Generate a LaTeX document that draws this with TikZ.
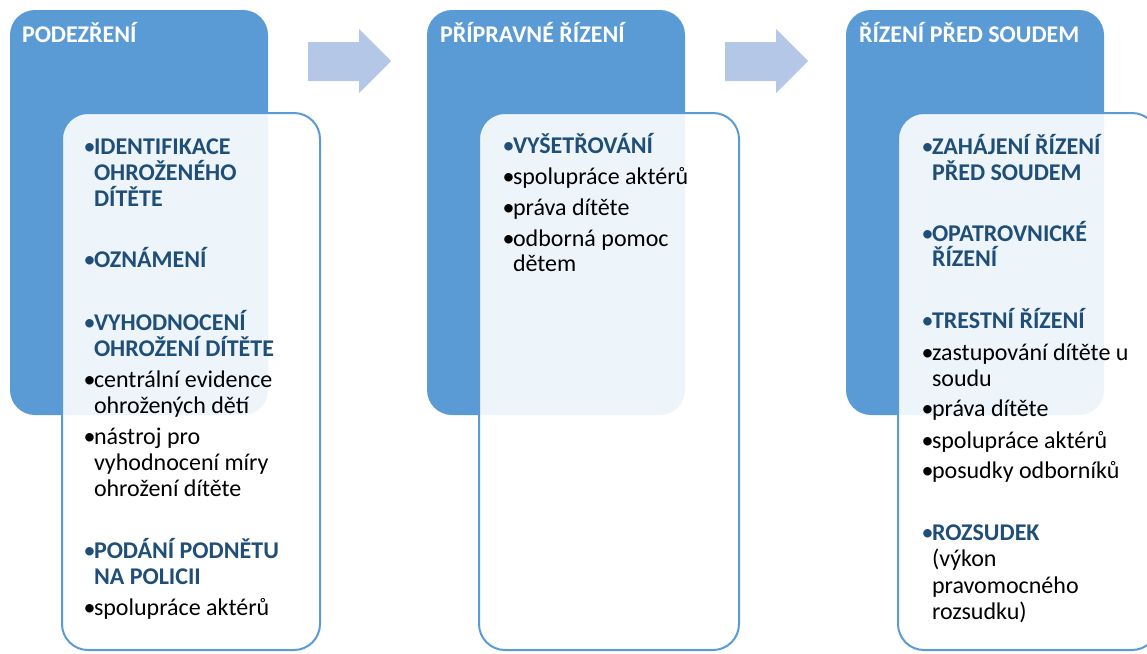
\documentclass[tikz,border=0pt]{standalone}
\usepackage{fontspec}
\setmainfont{Carlito}
\definecolor{hdrblue}{HTML}{5B9BD5}
\definecolor{arrblue}{HTML}{B4C7E7}
\definecolor{dkblue}{HTML}{1F4E79}
\tikzset{
  hdrbox/.style={fill=hdrblue, draw=none, rounded corners=25pt},
  listbox/.style={draw=hdrblue, line width=2pt, fill=white, fill opacity=0.9, rounded corners=26pt},
  flowarrow/.style={fill=arrblue, draw=none},
  txt/.style={inner sep=0pt, outer sep=0pt, font=\fontsize{24}{25}\selectfont},
  hd/.style={txt, text=white, font=\fontsize{24}{25}\selectfont\bfseries, anchor=base west},
  bd/.style={txt, text=dkblue, font=\fontsize{24}{25}\selectfont\bfseries},
  rg/.style={txt, text=black},
}
% line of text: name, x, y, style, text
\newcommand\tline[5]{\node[#4, anchor=base west] (#1) at (#2,#3) {#5};}
% bulleted line: name, x, y, style, text
\newcommand\bline[5]{\node[#4, anchor=base east, font=\fontsize{24}{25}\selectfont\mdseries] (#1b) at (#2+1.5,#3) {•};
  \node[#4, anchor=base west] (#1) at (#2,#3) {#5};}
\begin{document}
\begin{tikzpicture}[x=1pt, y=-1pt]
\path[use as bounding box, clip] (0,0) rectangle (1147,653);
% arrows
\fill[flowarrow] (308,42) -- (359,42) -- (359,29) -- (391,61) -- (359,93) -- (359,81) -- (308,81) -- cycle;
\fill[flowarrow] (725,42) -- (776,42) -- (776,29) -- (808,61) -- (776,93) -- (776,81) -- (725,81) -- cycle;
% column 1
\path[hdrbox] (10,10) rectangle (268,415);
\path[listbox] (62,113) rectangle (320,650);
% column 2
\path[hdrbox] (427,10) rectangle (685,415);
\path[listbox] (479,113) rectangle (739,650);
% column 3
\path[hdrbox] (846,10) rectangle (1104,415);
\path[listbox] (898,113) rectangle (1158,650);
% headers
\node[hd] (h1) at (22,42) {PODEZŘENÍ};
\node[hd] (h2) at (440,42) {PŘÍPRAVNÉ ŘÍZENÍ};
\node[hd] (h3) at (859,42) {ŘÍZENÍ PŘED SOUDEM};
% column 1 texts
\bline{a1}{94}{154}{bd}{IDENTIFIKACE}
\tline{a1x}{94}{180.5}{bd}{OHROŽENÉHO}
\tline{a1y}{94}{206.5}{bd}{DÍTĚTE}
\bline{a2}{94}{267.5}{bd}{OZNÁMENÍ}
\bline{a3}{94}{330}{bd}{VYHODNOCENÍ}
\tline{a3x}{94}{356}{bd}{OHROŽENÍ DÍTĚTE}
\bline{a4}{94}{387}{rg}{centrální evidence}
\tline{a4x}{94}{413}{rg}{ohrožených dětí}
\bline{a5}{94}{444}{rg}{nástroj pro}
\tline{a5x}{94}{470.5}{rg}{vyhodnocení míry}
\tline{a5y}{94}{496.5}{rg}{ohrožení dítěte}
\bline{a6}{94}{558.5}{bd}{PODÁNÍ PODNĚTU}
\tline{a6x}{94}{584}{bd}{NA POLICII}
\bline{a7}{94}{615}{rg}{spolupráce aktérů}
% column 2 texts
\bline{b1}{513}{153.5}{bd}{VYŠETŘOVÁNÍ}
\bline{b2}{513}{184}{rg}{spolupráce aktérů}
\bline{b3}{513}{215}{rg}{práva dítěte}
\bline{b4}{513}{246}{rg}{odborná pomoc}
\tline{b4x}{513}{271.5}{rg}{dětem}
% column 3 texts
\bline{c1}{932}{154}{bd}{ZAHÁJENÍ ŘÍZENÍ}
\tline{c1x}{932}{180.5}{bd}{PŘED SOUDEM}
\bline{c2}{932}{241}{bd}{OPATROVNICKÉ}
\tline{c2x}{932}{266.5}{bd}{ŘÍZENÍ}
\bline{c3}{932}{328.5}{bd}{TRESTNÍ ŘÍZENÍ}
\bline{c4}{932}{360}{rg}{zastupování dítěte u}
\tline{c4x}{932}{386}{rg}{soudu}
\bline{c5}{932}{416.5}{rg}{práva dítěte}
\bline{c6}{932}{448}{rg}{spolupráce aktérů}
\bline{c7}{932}{478}{rg}{posudky odborníků}
\bline{c8}{932}{540.5}{bd}{ROZSUDEK}
\tline{c8x}{932}{566.5}{rg}{(výkon}
\tline{c8y}{932}{593}{rg}{pravomocného}
\tline{c8z}{932}{619}{rg}{rozsudku)}
\end{tikzpicture}
\end{document}
